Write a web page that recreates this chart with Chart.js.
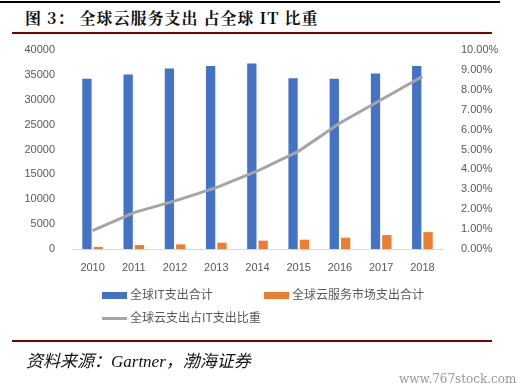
<!DOCTYPE html>
<html>
<head>
<meta charset="utf-8">
<script src="https://cdn.jsdelivr.net/npm/chart.js@4"></script>
<style>
  body { margin: 0; width: 520px; height: 392px; background: #fff; position: relative; overflow: hidden; font-family: "Noto Sans CJK SC", sans-serif; }
  #topline { position: absolute; left: 0; top: 1px; width: 500px; height: 2px; background: #000; }
  #titulo { position: absolute; left: 25px; top: 6px; font-size: 16px; letter-spacing: 1px; font-weight: bold; color: #111; font-family: "Noto Serif CJK SC", "Noto Sans CJK SC", serif; white-space: pre; }
  #redline { position: absolute; left: 12px; top: 32px; width: 480px; height: 2px; background: #7f0000; }
  #grafico { position: absolute; left: 0; top: 0; }
  #legenda { position: absolute; left: 0; top: 0; font-size: 12px; color: #595959; }
  .item { position: absolute; white-space: nowrap; line-height: 14px; }
  .item span { display: inline-block; width: 25px; vertical-align: middle; margin-right: 3px; }
  #redline2 { position: absolute; left: 12px; top: 340px; width: 480px; height: 2px; background: #7f0000; }
  #fonte { position: absolute; left: 26px; top: 347px; font-size: 17px; font-style: italic; color: #111; font-family: "Liberation Serif", "Noto Sans CJK SC", serif; }
  #marca { position: absolute; left: 399px; top: 372px; font-size: 12px; color: #999; font-family: "DejaVu Serif", serif; }
</style>
</head>
<body>
<div id="topline"></div>
<div id="titulo">图 3： 全球云服务支出 占全球 IT 比重</div>
<div id="redline"></div>
<canvas id="grafico" width="520" height="392"></canvas>
<div id="legenda"></div>
<div id="redline2"></div>
<div id="fonte">资料来源：Gartner，渤海证券</div>
<div id="marca">www.767stock.com</div>
<script>
const anos = ["2010", "2011", "2012", "2013", "2014", "2015", "2016", "2017", "2018"];
const gastoIT = [34200, 35100, 36300, 36800, 37300, 34300, 34200, 35300, 36800];
const gastoNuvem = [420, 800, 930, 1270, 1670, 1870, 2270, 2800, 3400];
const proporcao = [0.92, 1.83, 2.42, 3.08, 3.92, 4.92, 6.33, 7.5, 8.67];

const nomes = ["全球IT支出合计", "全球云服务市场支出合计", "全球云支出占IT支出比重"];
const cores = ["#4472c4", "#ed7d31", "#a5a5a5"];

const fonteTick = { family: "Liberation Sans, Arial, sans-serif", size: 11 };

new Chart(document.getElementById("grafico"), {
  type: "bar",
  data: {
    labels: anos,
    datasets: [
      { label: nomes[2], type: "line", data: proporcao, yAxisID: "y2", borderColor: cores[2], borderWidth: 3, pointRadius: 0, tension: 0, order: 0 },
      { label: nomes[0], data: gastoIT, backgroundColor: cores[0], yAxisID: "y", order: 1 },
      { label: nomes[1], data: gastoNuvem, backgroundColor: cores[1], yAxisID: "y", order: 1 }
    ]
  },
  options: {
    responsive: false,
    animation: false,
    layout: { padding: { top: 50, bottom: 118, left: 0, right: 0 } },
    datasets: { bar: { categoryPercentage: 0.55, barPercentage: 0.82 } },
    plugins: { legend: { display: false }, tooltip: { enabled: false } },
    scales: {
      x: {
        grid: { display: false },
        border: { color: "#d9d9d9" },
        ticks: { color: "#595959", font: fonteTick, padding: 4 },
        afterFit: s => { s.height = 25; }
      },
      y: {
        position: "left",
        min: 0, max: 40000,
        ticks: { stepSize: 5000, color: "#595959", font: fonteTick, padding: 9, callback: v => String(v) },
        grid: { display: false },
        border: { display: false },
        afterFit: s => { s.width = 72; }
      },
      y2: {
        position: "right",
        min: 0, max: 10,
        ticks: { stepSize: 1, color: "#595959", font: fonteTick, padding: 10, callback: v => v.toFixed(2) + "%" },
        grid: { display: false },
        border: { display: false },
        afterFit: s => { s.width = 77; }
      }
    }
  }
});

// legenda em HTML
const posicoes = [[102, 287], [264, 287], [102, 310]];
const legenda = document.getElementById("legenda");
[0, 1, 2].forEach(i => {
  const d = document.createElement("div");
  d.className = "item";
  d.style.left = posicoes[i][0] + "px";
  d.style.top = posicoes[i][1] + "px";
  const h = i === 2 ? 3 : 7;
  d.innerHTML = `<span style="height:${h}px;background:${cores[i]}"></span>${nomes[i]}`;
  legenda.appendChild(d);
});
</script>
</body>
</html>
